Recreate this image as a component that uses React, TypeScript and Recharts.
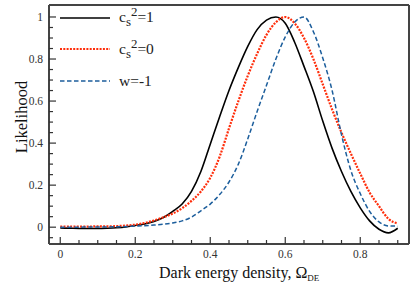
import { Line, LineChart, ReferenceLine, XAxis, YAxis } from "recharts";

const omega = [
  0, 0.025, 0.05, 0.075, 0.1, 0.125, 0.15, 0.175, 0.2, 0.225, 0.25, 0.275, 0.3,
  0.325, 0.35, 0.375, 0.4, 0.425, 0.45, 0.475, 0.5, 0.525, 0.55, 0.575, 0.6,
  0.625, 0.65, 0.675, 0.7, 0.725, 0.75, 0.775, 0.8, 0.825, 0.85, 0.875, 0.9,
];
const likeCs1 = [
  -0.004, -0.005, -0.006, -0.006, -0.006, -0.005, -0.003, 0.001, 0.008, 0.015,
  0.027, 0.046, 0.075, 0.11, 0.17, 0.265, 0.395, 0.525, 0.65, 0.76, 0.86, 0.94,
  0.985, 1.0, 0.97, 0.88, 0.765, 0.645, 0.505, 0.375, 0.265, 0.17, 0.092, 0.03,
  -0.01, -0.027, -0.005,
];
const likeCs0 = [
  0.003, 0.003, 0.003, 0.003, 0.004, 0.004, 0.005, 0.008, 0.012, 0.02, 0.032,
  0.047, 0.065, 0.09, 0.125, 0.17, 0.235, 0.335, 0.47, 0.6, 0.72, 0.825, 0.915,
  0.975, 1.0, 0.97, 0.9, 0.8, 0.68, 0.56, 0.45, 0.35, 0.255, 0.165, 0.1, 0.04,
  0.018,
];
const likeLambda = [
  0, 0, 0, 0.001, 0.001, 0.001, 0.002, 0.003, 0.005, 0.007, 0.01, 0.014, 0.02,
  0.03, 0.048, 0.078, 0.11, 0.155, 0.215, 0.3, 0.42, 0.55, 0.675, 0.8, 0.905,
  0.975, 1.0, 0.93, 0.805, 0.65, 0.44, 0.27, 0.16, 0.075, 0.025, 0.006, 0.005,
];

const xTicks = [
  0, 0.05, 0.1, 0.15, 0.2, 0.25, 0.3, 0.35, 0.4, 0.45, 0.5, 0.55, 0.6, 0.65,
  0.7, 0.75, 0.8, 0.85, 0.9,
];
const yTicks = [
  -0.05, 0, 0.05, 0.1, 0.15, 0.2, 0.25, 0.3, 0.35, 0.4, 0.45, 0.5, 0.55, 0.6,
  0.65, 0.7, 0.75, 0.8, 0.85, 0.9, 0.95, 1,
];

const rows = omega.map((x, i) => ({
  x,
  cs1: likeCs1[i],
  cs0: likeCs0[i],
  lambda: likeLambda[i],
}));

const X_DOMAIN: [number, number] = [-0.03, 0.93];
const Y_DOMAIN: [number, number] = [-0.08, 1.057];

const FONT = "'Liberation Serif', 'DejaVu Serif', serif";
const BLACK = "#000000";
const RED = "#ff2d0a";
const BLUE = "#1c5e9c";
const FRAME = "#444";

const isMajor = (v: number) => Math.abs(v * 5 - Math.round(v * 5)) < 1e-6;
const fmt = (v: number) => (Math.abs(v) < 1e-9 ? "0" : String(+v.toFixed(1)));

const XTick = ({ x, y, payload }: any) => {
  const major = isMajor(payload.value);
  return (
    <g>
      <line x1={x} x2={x} y1={y} y2={y - (major ? 7 : 4)} stroke="#333" strokeWidth={1.2} />
      {major && (
        <text x={x} y={y + 14} textAnchor="middle" fill="#333" style={{ fontFamily: FONT, fontSize: 11.5 }}>
          {fmt(payload.value)}
        </text>
      )}
    </g>
  );
};

const YTick = ({ x, y, payload }: any) => {
  const major = isMajor(payload.value);
  return (
    <g>
      <line x1={x} x2={x + (major ? 7 : 4)} y1={y} y2={y} stroke="#333" strokeWidth={1.2} />
      {major && (
        <text x={x - 6} y={y + 4} textAnchor="end" fill="#333" style={{ fontFamily: FONT, fontSize: 11.5 }}>
          {fmt(payload.value)}
        </text>
      )}
    </g>
  );
};

const legendItems = [
  { color: BLACK, dash: undefined, width: 1.6, label: <>c<sub>s</sub><sup>2</sup>=1</> },
  { color: RED, dash: "2 1.3", width: 2.2, label: <>c<sub>s</sub><sup>2</sup>=0</> },
  { color: BLUE, dash: "4.5 2.5", width: 1.5, label: <>w=-1</> },
];

const LegendBox = () => (
  <div style={{ position: "absolute", left: 59, top: 2, fontFamily: FONT, fontSize: 15.5, color: "#222" }}>
    {legendItems.map((it, i) => (
      <div key={i} style={{ display: "flex", alignItems: "center", height: 31.5 }}>
        <svg width={52} height={6} style={{ marginRight: 8 }}>
          <line x1={1} x2={51} y1={3} y2={3} stroke={it.color} strokeWidth={it.width} strokeDasharray={it.dash} />
        </svg>
        <span style={{ lineHeight: 1 }}>{it.label}</span>
      </div>
    ))}
  </div>
);

const XLabel = () => (
  <text x={159} y={278} fill="#111" style={{ fontFamily: FONT, fontSize: 16 }}>
    Dark energy density, Ω
    <tspan fontSize={9} dy={3}>DE</tspan>
  </text>
);

const YLabel = () => (
  <text
    x={0}
    y={0}
    transform="translate(27,117) rotate(-90)"
    textAnchor="middle"
    fill="#111"
    style={{ fontFamily: FONT, fontSize: 16.5 }}
  >
    Likelihood
  </text>
);

export default function App() {
  return (
    <div style={{ position: "absolute", left: 0, top: 0, width: 415, height: 293, background: "#fff" }}>
      <LineChart width={415} height={293} data={rows} margin={{ top: 5, right: 6, left: 0, bottom: 0 }}>
        <XAxis
          dataKey="x"
          type="number"
          domain={X_DOMAIN}
          ticks={xTicks}
          interval={0}
          allowDataOverflow
          height={49}
          tickSize={0}
          tickMargin={0}
          tickLine={false}
          axisLine={{ stroke: FRAME, strokeWidth: 2 }}
          tick={<XTick />}
          label={{ content: () => <XLabel /> }}
        />
        <YAxis
          type="number"
          domain={Y_DOMAIN}
          ticks={yTicks}
          interval={0}
          allowDataOverflow
          width={49}
          tickSize={0}
          tickMargin={0}
          tickLine={false}
          axisLine={{ stroke: FRAME, strokeWidth: 2 }}
          tick={<YTick />}
          label={{ content: () => <YLabel /> }}
        />
        <ReferenceLine y={Y_DOMAIN[1]} stroke={FRAME} strokeWidth={2} ifOverflow="visible" />
        <ReferenceLine x={X_DOMAIN[1]} stroke={FRAME} strokeWidth={2} ifOverflow="visible" />
        <Line type="monotone" dataKey="cs1" stroke={BLACK} strokeWidth={1.6} dot={false} isAnimationActive={false} />
        <Line type="monotone" dataKey="cs0" stroke={RED} strokeWidth={2.2} strokeDasharray="2 1.3" dot={false} isAnimationActive={false} />
        <Line type="monotone" dataKey="lambda" stroke={BLUE} strokeWidth={1.5} strokeDasharray="4.5 2.5" dot={false} isAnimationActive={false} />
      </LineChart>
      <LegendBox />
    </div>
  );
}
